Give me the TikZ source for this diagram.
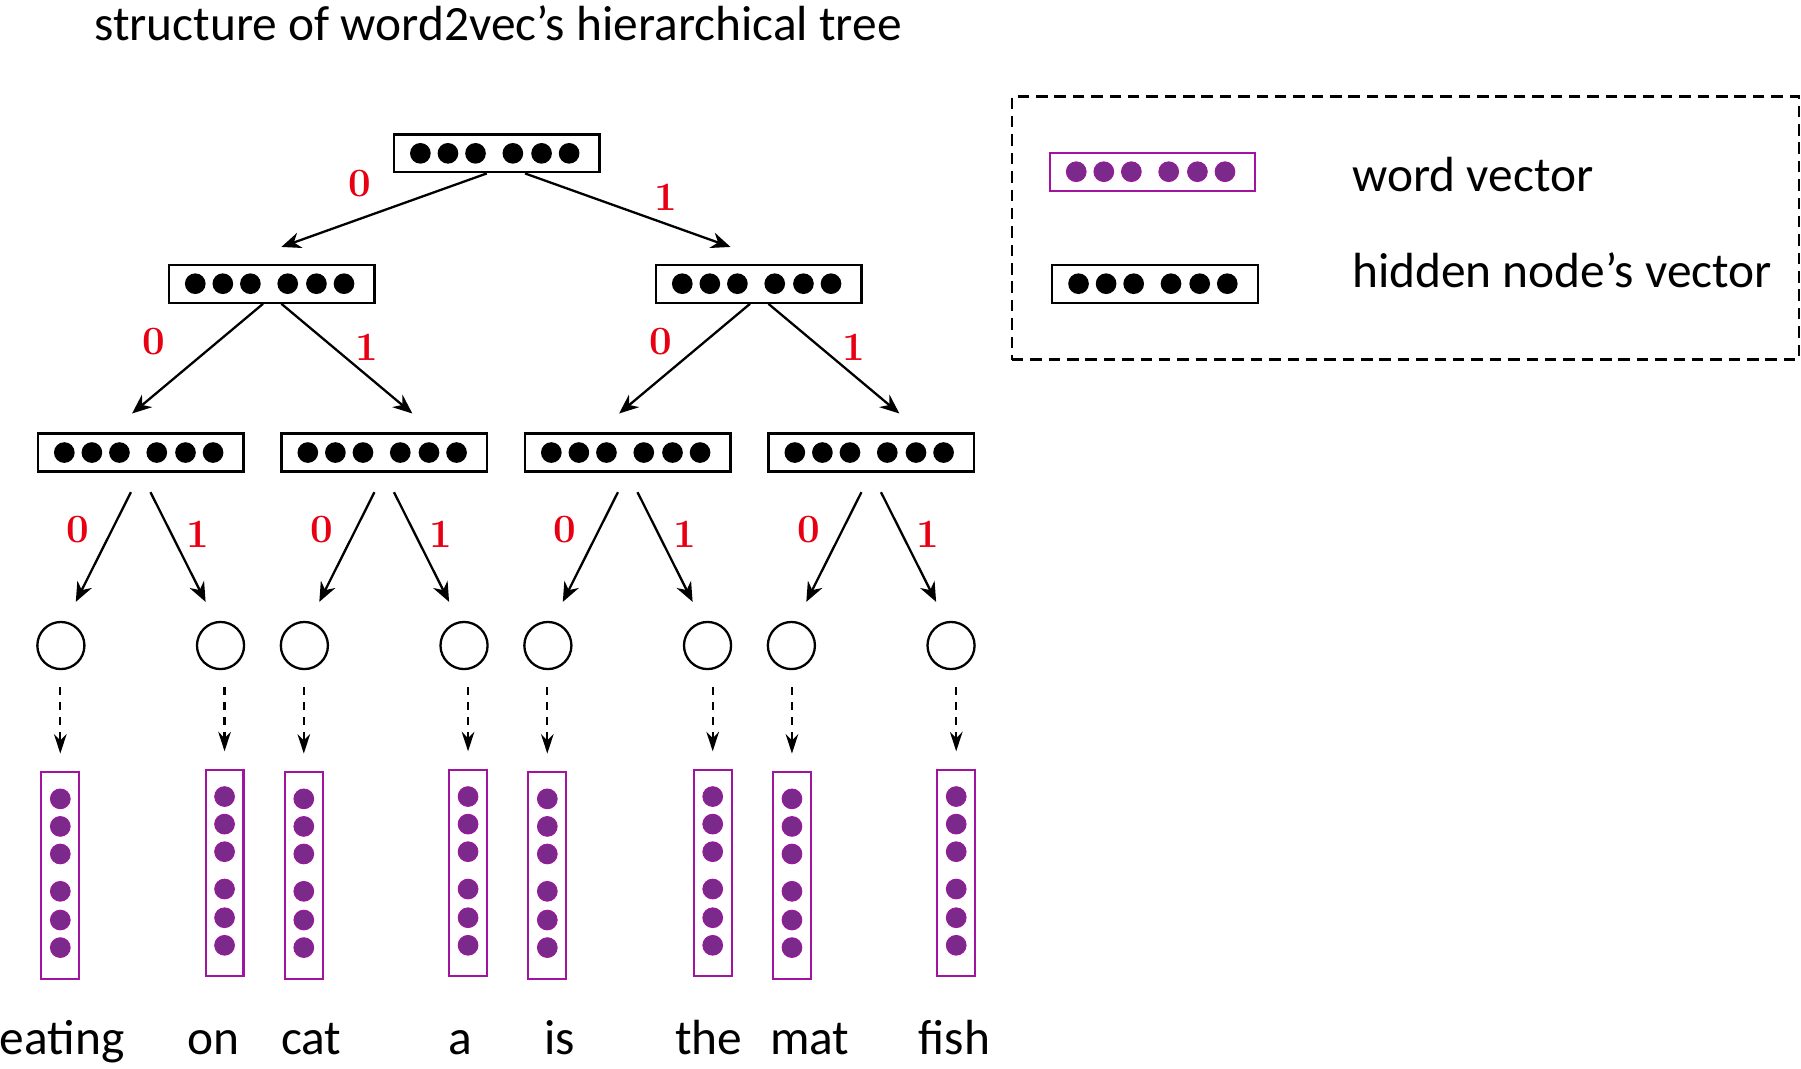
\documentclass[tikz,border=0pt]{standalone}
\usepackage{fontspec}
\newfontfamily\calfont{Carlito}
\usetikzlibrary{arrows.meta,calc}
\definecolor{dotpurple}{RGB}{123,42,140}
\definecolor{boxpurple}{RGB}{160,20,160}
\definecolor{labred}{RGB}{232,0,18}
\newcommand{\blackdots}[1]{\foreach \o in {-66.5,-42.5,-18.5,14,39,63} \fill[black] ($(#1.center)+(\o,0)$) circle (9pt);}
\newcommand{\purpdotsh}[1]{\foreach \o in {-66.5,-42.5,-18.5,14,39,63} \filldraw[fill=dotpurple,draw=boxpurple,line width=0.8pt] ($(#1.center)+(\o,0)$) circle (8.6pt);}
\newcommand{\purpdotsv}[1]{\foreach \o in {-66.5,-42.5,-18.5,14,39,63} \filldraw[fill=dotpurple,draw=boxpurple,line width=0.8pt] ($(#1.center)+(0,\o)$) circle (8.6pt);}
\begin{document}
\begin{tikzpicture}[x=1pt,y=-1pt,
  hidbox/.style={draw=black,line width=2pt,minimum width=179pt,minimum height=33pt,inner sep=0pt},
  wordboxv/.style={draw=boxpurple,line width=1.8pt,minimum width=33pt,minimum height=180pt,inner sep=0pt},
  wordboxh/.style={draw=boxpurple,line width=1.8pt,minimum width=179pt,minimum height=33pt,inner sep=0pt},
  leaf/.style={circle,draw=black,line width=2pt,minimum size=41pt,inner sep=0pt},
  arr/.style={line width=2pt,-{Stealth[length=17pt,width=14pt]}},
  darr/.style={line width=2pt,dash pattern=on 7pt off 6pt,-{Stealth[length=17pt,width=11pt]}},
  lab/.style={text=labred,font=\fontsize{35}{40}\selectfont\bfseries,inner sep=0pt},
  txt/.style={font=\calfont\fontsize{43}{50}\selectfont,inner sep=0pt}]
\useasboundingbox (0,0) rectangle (1568,930.7);

% title
\node[txt,anchor=base west] (title) at (82,35) {structure of word2vec’s hierarchical tree};

% tree nodes
\node[hidbox] (root) at (432.5,133.5) {};
\node[hidbox] (l2a) at (236.5,247) {};
\node[hidbox] (l2b) at (660.5,247) {};
\node[hidbox] (l3a) at (122.5,394) {};
\node[hidbox] (l3b) at (334.5,394) {};
\node[hidbox] (l3c) at (546.5,394) {};
\node[hidbox] (l3d) at (758.5,394) {};
\foreach \n in {root,l2a,l2b,l3a,l3b,l3c,l3d} {\blackdots{\n}}

% leaves
\node[leaf] (leafA) at (53,562) {};
\node[leaf] (leafB) at (192,562) {};
\node[leaf] (leafC) at (265,562) {};
\node[leaf] (leafD) at (404,562) {};
\node[leaf] (leafE) at (477,562) {};
\node[leaf] (leafF) at (616,562) {};
\node[leaf] (leafG) at (689,562) {};
\node[leaf] (leafH) at (828,562) {};

% word vectors
\node[wordboxv] (vA) at (52.5,762) {};
\node[wordboxv] (vB) at (195.5,760) {};
\node[wordboxv] (vC) at (264.5,762) {};
\node[wordboxv] (vD) at (407.5,760) {};
\node[wordboxv] (vE) at (476.5,762) {};
\node[wordboxv] (vF) at (620.5,760) {};
\node[wordboxv] (vG) at (689.5,762) {};
\node[wordboxv] (vH) at (832.5,760) {};
\foreach \n in {vA,vB,vC,vD,vE,vF,vG,vH} {\purpdotsv{\n}}

% words
\node[txt,anchor=base] (w1) at (54,918) {eating};
\node[txt,anchor=base] (w2) at (186,918) {on};
\node[txt,anchor=base] (w3) at (271,918) {cat};
\node[txt,anchor=base] (w4) at (401,918) {a};
\node[txt,anchor=base] (w5) at (487,918) {is};
\node[txt,anchor=base] (w6) at (617,918) {the};
\node[txt,anchor=base] (w7) at (705,918) {mat};
\node[txt,anchor=base] (w8) at (831,918) {fish};

% arrows root -> level 2
\draw[arr] ($(root.south)+(-8.7,0)$) -- ($(l2a.center)+(8.5,-32)$);
\draw[arr] ($(root.south)+(24.6,0)$) -- ($(l2b.center)+(-24.5,-32)$);
\node[lab] (r0) at (313,160) {0};
\node[lab] (r1) at (580,172) {1};

% level 2 -> level 3
\draw[arr] ($(l2a.south)+(-7.5,0)$) -- ($(l3a.center)+(-7.5,-34)$);
\draw[arr] ($(l2a.south)+(8.5,0)$) -- ($(l3b.center)+(24.5,-34)$);
\draw[arr] ($(l2b.south)+(-7.5,0)$) -- ($(l3c.center)+(-7.5,-34)$);
\draw[arr] ($(l2b.south)+(8.5,0)$) -- ($(l3d.center)+(24.5,-34)$);
\node[lab] (a0) at (134,297) {0};
\node[lab] (a1) at (319,302) {1};
\node[lab] (b0) at (575,297) {0};
\node[lab] (b1) at (743,302) {1};

% level 3 -> leaves
\foreach \b/\l/\r/\k in {l3a/leafA/leafB/1,l3b/leafC/leafD/2,l3c/leafE/leafF/3,l3d/leafG/leafH/4} {
  \draw[arr] ($(\b.south)+(-8.5,17)$) -- ($(\l.north)+(13,-16.5)$);
  \draw[arr] ($(\b.south)+(8.5,17)$) -- ($(\r.north)+(-13,-16.5)$);
  \node[lab] (z0\k) at ($(\b.center)+(-54.5,67)$) {0};
  \node[lab] (z1\k) at ($(\b.center)+(49.5,71)$) {1};
}

% leaves -> word vectors (dashed)
\foreach \l/\v in {leafA/vA,leafB/vB,leafC/vC,leafD/vD,leafE/vE,leafF/vF,leafG/vG,leafH/vH} {
  \draw[darr] ($(\l.south -| \v.north)+(0,15)$) -- ($(\v.north)+(0,-15)$);
}

% legend
\node[draw=black,line width=2pt,dash pattern=on 10pt off 6pt,minimum width=685pt,minimum height=229pt,inner sep=0pt] (legend) at (1223.5,198.5) {};
\node[wordboxh] (lgw) at (1003.5,149.5) {};
\purpdotsh{lgw}
\node[hidbox] (lgh) at (1005.5,247) {};
\blackdots{lgh}
\node[txt,anchor=base west] (lgwt) at (1177,167) {word vector};
\node[txt,anchor=base west] (lght) at (1177,250) {hidden node’s vector};
\end{tikzpicture}
\end{document}
